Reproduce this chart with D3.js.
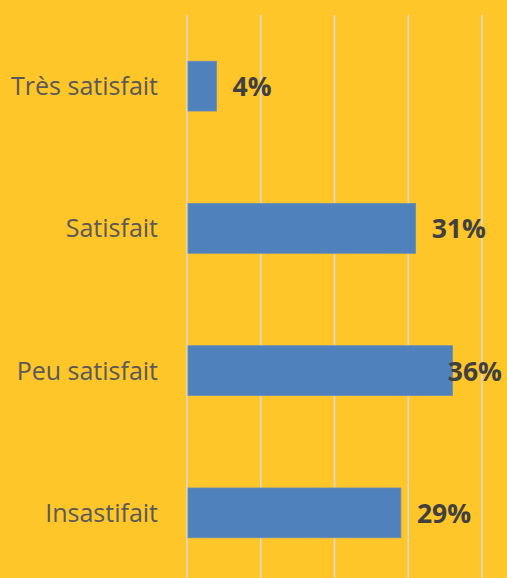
<!DOCTYPE html>
<html>
<head>
<meta charset="utf-8">
<script src="https://cdn.jsdelivr.net/npm/d3@7"></script>
<style>
  html, body { margin: 0; padding: 0; background: #FFC629; }
  svg { display: block; }
</style>
</head>
<body>
<div id="chart"></div>
<script>
// data
var categories = ['Très satisfait', 'Satisfait', 'Peu satisfait', 'Insastifait'];
var values = [0.04, 0.31, 0.36, 0.29];
var labels = ['4%', '31%', '36%', '29%'];
var gridTicks = [0, 0.1, 0.2, 0.3, 0.4];

var width = 507, height = 578;

var svg = d3.select('#chart').append('svg')
    .attr('width', width)
    .attr('height', height);

svg.append('rect')
    .attr('width', width).attr('height', height)
    .attr('fill', '#FFC629');

// scales
var x = d3.scaleLinear().domain([0, 0.4]).range([187, 482]);
var y = d3.scaleBand().domain(categories).range([15, 584])
    .paddingInner(0.65).paddingOuter(0.325);

// vertical gridlines
svg.append('g').selectAll('line')
    .data(gridTicks)
    .enter().append('line')
    .attr('x1', function (d) { return x(d); })
    .attr('x2', function (d) { return x(d); })
    .attr('y1', 15)
    .attr('y2', height)
    .attr('stroke', '#D9D9D9')
    .attr('stroke-width', 1.5);

// bars
svg.append('g').selectAll('rect')
    .data(values)
    .enter().append('rect')
    .attr('x', x(0) + 1)
    .attr('y', function (d, i) { return y(categories[i]); })
    .attr('width', function (d) { return x(d) - x(0) - 1; })
    .attr('height', y.bandwidth())
    .attr('fill', '#4F81BD')
    .attr('stroke', '#6A8CB8')
    .attr('stroke-width', 0.8);

// category labels
svg.append('g').selectAll('text')
    .data(categories)
    .enter().append('text')
    .attr('x', 158)
    .attr('y', function (d) { return y(d) + y.bandwidth() / 2; })
    .attr('dy', '0.36em')
    .attr('text-anchor', 'end')
    .attr('font-family', '"Open Sans", sans-serif')
    .attr('font-size', 25)
    .attr('fill', '#595959')
    .text(function (d) { return d; });

// value labels (pushed back inside the plot if they would overflow)
svg.append('g').selectAll('text')
    .data(values)
    .enter().append('text')
    .attr('y', function (d, i) { return y(categories[i]) + y.bandwidth() / 2; })
    .attr('dy', '0.38em')
    .attr('font-family', '"Open Sans", sans-serif')
    .attr('font-weight', 'bold')
    .attr('font-size', 26.5)
    .attr('fill', '#404040')
    .text(function (d, i) { return labels[i]; })
    .attr('x', function (d) {
        var w = this.getComputedTextLength();
        var px = x(d) + 16;
        return Math.min(px, 502 - w);
    });
</script>
</body>
</html>
